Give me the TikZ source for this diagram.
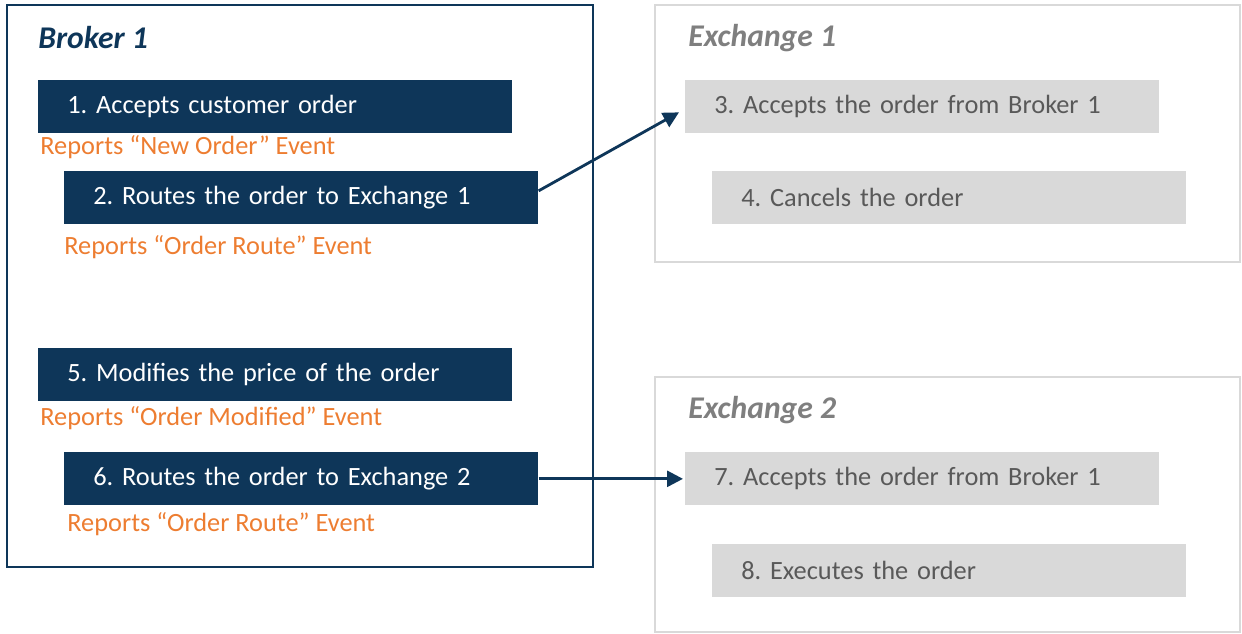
\documentclass[tikz,border=0pt]{standalone}
\usepackage{fontspec}
\setmainfont{Carlito}
\usepackage{tikz}
\usetikzlibrary{arrows.meta,calc}
\definecolor{navy}{HTML}{0E3659}
\definecolor{evt}{HTML}{ED7D31}
\definecolor{lite}{HTML}{D9D9D9}
\definecolor{dim}{HTML}{595959}
\definecolor{ttl}{HTML}{7F7F7F}
\frenchspacing

\tikzset{
  brokerstep/.style={fill=navy,text=white,anchor=north west,inner xsep=0.58cm,
    text width=8.32cm,align=left,minimum height=1.06cm,font=\fontsize{15}{18}\selectfont},
  exchstep/.style={brokerstep,fill=lite,text=dim},
  report/.style={anchor=west,inner sep=0pt,text=evt,font=\fontsize{15}{18}\selectfont},
  title/.style={anchor=west,inner sep=0pt,font=\fontsize{18}{21}\selectfont\bfseries\itshape},
  flow/.style={-{Triangle[length=9pt,width=9pt]},line width=1.6pt,draw=navy}
}

\begin{document}
\begin{tikzpicture}[x=0.02cm,y=-0.02cm]
  \useasboundingbox (0,0) rectangle (1242,634);
  % frames
  \draw[navy,line width=1.5pt] (7,5) rectangle (593,567);
  \draw[lite,line width=1.5pt] (655,5) rectangle (1240,262);
  \draw[lite,line width=1.5pt] (655,377) rectangle (1240,632);
  \node[title,text=navy] (brk) at (38,38) {Broker 1};
  \node[title,text=ttl] (ex1) at (688,38) {Exchange 1};
  \node[title,text=ttl] (ex2) at (688,410) {Exchange 2};
  % broker steps
  \node[brokerstep] (b1) at (38,80) {1. Accepts customer order};
  \node[report] (r1) at (40,147) {Reports “New Order” Event};
  \node[brokerstep] (b2) at (64,171) {2. Routes the order to Exchange 1};
  \node[report] (r2) at (64,247) {Reports “Order Route” Event};
  \node[brokerstep] (b5) at (38,348) {5. Modifies the price of the order};
  \node[report] (r5) at (40,418) {Reports “Order Modified” Event};
  \node[brokerstep] (b6) at (64,452) {6. Routes the order to Exchange 2};
  \node[report] (r6) at (67,524) {Reports “Order Route” Event};
  % exchange steps
  \node[exchstep] (e3) at (685,80) {3. Accepts the order from Broker 1};
  \node[exchstep] (e4) at (712,171) {4. Cancels the order};
  \node[exchstep] (e7) at (685,452) {7. Accepts the order from Broker 1};
  \node[exchstep] (e8) at (712,544) {8. Executes the order};
  % routing
  \draw[flow] ([yshift=0.14cm]b2.east) -- ([xshift=-0.12cm,yshift=-0.11cm]e3.west);
  \draw[flow] (b6.east) -- ([xshift=-0.04cm]e7.west);
\end{tikzpicture}
\end{document}
